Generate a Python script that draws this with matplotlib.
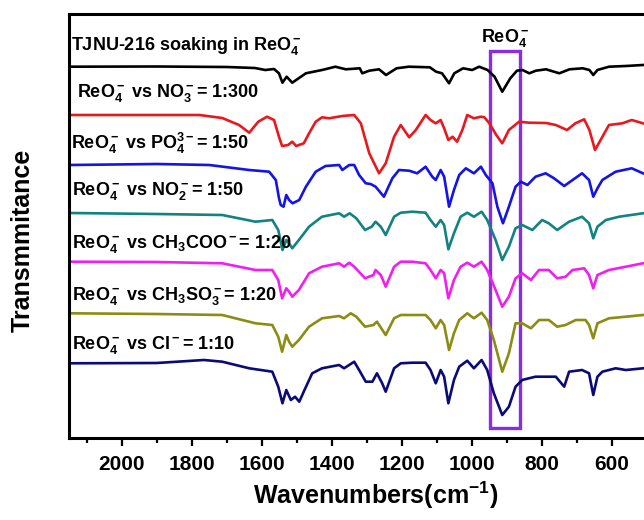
import numpy as np
import matplotlib
matplotlib.use("Agg")
import matplotlib.pyplot as plt
from matplotlib.patches import Rectangle

plt.rcParams["font.family"] = ["Liberation Sans", "DejaVu Sans"]
plt.rcParams["font.weight"] = "bold"
plt.rcParams["mathtext.fontset"] = "custom"
plt.rcParams["mathtext.rm"] = "Liberation Sans:bold"
plt.rcParams["mathtext.it"] = "Liberation Sans:bold"
plt.rcParams["mathtext.bf"] = "Liberation Sans:bold"

# spectra, stacked as in the figure (wavenumber cm-1, transmittance a.u.)
wn_black = [2150, 1900, 1700, 1620, 1590, 1565, 1551, 1541, 1529, 1513, 1474, 1428, 1408, 1390,
            1360, 1320, 1313, 1293, 1265, 1245, 1215, 1180, 1120, 1102, 1085, 1065, 1050, 1025,
            999, 979, 955, 935, 913, 890, 871, 855, 836, 817, 788, 750, 721, 683, 664, 653, 641,
            608, 560, 511]
t_black = [371.3, 371.5, 371, 370, 368, 369, 364.7, 355.3, 361.3, 355.3, 364.7, 368, 369.7, 371.3,
           368.7, 369.7, 364.7, 367.3, 368.7, 363, 369.7, 371.3, 370.7, 366.3, 364.7, 354.7, 364.7, 369.7,
           368, 371.3, 368, 361.3, 346.3, 359.7, 367.3, 368, 364.7, 367.3, 368.7, 364.7, 368.7, 369.7, 368, 363, 368,
           371.3, 372, 373]

wn_red = [2150, 1950, 1778, 1713, 1665, 1636, 1610, 1585, 1565, 1551, 1542, 1525, 1513, 1502, 1480,
          1465, 1446, 1428, 1408, 1370, 1336, 1317, 1293, 1265, 1246, 1222, 1203, 1179, 1160, 1132,
          1118, 1103, 1089, 1079, 1067, 1055, 1042, 1027, 1013, 994, 974, 964, 950, 930, 913, 894,
          865, 836, 788, 760, 728, 704, 679, 664, 648, 632, 608, 570, 543, 511]
t_red = [323, 323, 323, 320, 313, 305.3, 316.3, 321.3, 318, 301.3, 292, 293, 296.3, 292, 294.7,
         304.7, 316.3, 320.7, 319.7, 322, 323, 314.7, 284.7, 264.7, 274.7, 301.3, 313, 300.7, 308, 323,
         318, 314.7, 318, 309.7, 298, 301.3, 296.3, 308, 323, 319.7, 321.3, 320.7, 314.7, 303, 294.7, 308,
         316.3, 315.3, 315, 313, 308, 314.7, 318.7, 308, 288, 298, 313, 314.7, 318, 314.7]

wn_blue = [2150, 1900, 1750, 1636, 1579, 1560, 1551, 1546, 1538, 1530, 1522, 1512, 1493, 1474, 1446,
           1418, 1379, 1370, 1350, 1336, 1322, 1303, 1289, 1275, 1251, 1227, 1208, 1179, 1156, 1132,
           1113, 1103, 1089, 1079, 1065, 1051, 1036, 1017, 994, 974, 960, 941, 927, 911, 894, 875,
           860, 841, 818, 789, 765, 736, 712, 685, 665, 653, 641, 627, 589, 543, 511]
t_blue = [273, 274, 273, 268, 266.3, 258, 240, 233, 231.3, 243, 238, 234.7, 238, 251.3, 266.3,
          272, 273, 268, 273, 273, 263, 254.7, 254, 251.3, 241.3, 259.7, 268, 267.3, 264.7, 271.3,
          261.3, 258, 268, 261.3, 231.3, 248, 263, 269.7, 264.7, 271.3, 263, 254.7, 231.3, 214.7, 231.3, 251.3,
          256.3, 253, 261.3, 264.7, 259.7, 252, 258, 264.7, 258, 241.3, 249.7, 258, 266.3, 269.7, 264.7]

wn_teal = [2150, 1900, 1713, 1618, 1570, 1553, 1541, 1530, 1522, 1513, 1494, 1465, 1428, 1379,
           1365, 1349, 1330, 1305, 1286, 1275, 1260, 1246, 1222, 1203, 1170, 1132, 1118, 1103, 1089,
           1079, 1067, 1051, 1032, 1013, 994, 972, 956, 932, 913, 894, 875, 856, 827, 799, 780, 756,
           722, 685, 665, 653, 641, 617, 579, 511]
t_teal = [225, 224, 223, 216.3, 218, 208, 188, 198, 194.7, 189.7, 198, 211.3, 221.3, 224.7,
          221.3, 224.7, 219.7, 208, 211.3, 216.3, 211.3, 203, 221.3, 225.3, 226.3, 225.3, 218, 211.3, 218,
          213, 188.7, 204.7, 221.3, 225.3, 221.3, 226.3, 218, 198, 178, 191.3, 209.7, 213, 208, 218, 214.7, 208,
          216.3, 221.3, 214.7, 199.7, 211.3, 218, 221.3, 224.7]

wn_mag = [2150, 1900, 1713, 1618, 1570, 1553, 1542, 1530, 1522, 1513, 1494, 1465, 1428, 1379,
          1365, 1350, 1336, 1305, 1281, 1275, 1260, 1246, 1222, 1203, 1170, 1132, 1118, 1103, 1089,
          1079, 1067, 1051, 1032, 1013, 994, 972, 956, 932, 913, 894, 875, 856, 831, 808, 780, 756,
          732, 712, 679, 665, 653, 641, 608, 560, 511]
t_mag = [176.3, 176, 174.7, 168, 168, 158, 139.7, 149.7, 146.3, 141.3, 148, 164.7, 171.3, 174.7,
         171.3, 175.3, 171.3, 159.7, 163, 168, 163, 151.3, 171.3, 176.3, 176.3, 174.7, 168, 159.7, 168,
         164.7, 139.7, 158, 171.3, 175.3, 171.3, 176.3, 168, 148, 131.3, 141.3, 159.7, 164.7, 158, 168, 168, 159.7,
         161.3, 168, 169.7, 163, 149.7, 163, 168, 171.3, 174.7]

wn_olive = [2150, 1900, 1713, 1618, 1570, 1553, 1542, 1530, 1522, 1513, 1494, 1465, 1428, 1379,
            1365, 1346, 1330, 1305, 1281, 1271, 1246, 1222, 1203, 1170, 1132, 1118, 1103, 1089, 1079,
            1065, 1051, 1036, 1013, 994, 972, 956, 937, 913, 894, 875, 856, 831, 808, 780, 756, 732,
            703, 675, 665, 653, 641, 608, 560, 511]
t_olive = [124.7, 124, 123, 114.7, 113, 101.3, 86.3, 103, 96.3, 91.3, 98, 111.3, 119.7, 122,
           119.7, 124.7, 121.3, 111.3, 113, 116.3, 103, 119.7, 123, 123, 123, 118, 109.7, 118, 113,
           88, 104.7, 118, 124.7, 119.7, 125.3, 118, 98, 66.3, 84.7, 114.7, 114.7, 109.7, 118, 118, 111.3, 113,
           118, 118, 113, 99.7, 114.7, 119.7, 121.3, 123]

wn_navy = [2150, 1900, 1765, 1713, 1636, 1570, 1553, 1541, 1530, 1517, 1505, 1493, 1478, 1456,
           1428, 1379, 1365, 1336, 1322, 1303, 1284, 1271, 1256, 1246, 1222, 1203, 1170, 1132, 1118,
           1103, 1089, 1079, 1067, 1051, 1036, 1013, 994, 972, 956, 937, 913, 894, 875, 856, 837, 818,
           789, 760, 736, 722, 685, 665, 653, 641, 627, 589, 560, 511]
t_navy = [74.7, 75, 78, 76.3, 69.7, 66.3, 51.3, 34.7, 48, 38, 41.3, 36.3, 48, 64.7,
          69.7, 73, 69.7, 76.3, 68, 56.3, 56.3, 64.7, 54.7, 46.3, 69.7, 74.7, 75.3, 75.3, 68,
          54.7, 68, 61.3, 34.7, 58, 71.3, 77.3, 69.7, 78, 68, 44.7, 23, 31.3, 51.3, 58, 59.7, 61.3,
          61.3, 61.3, 51.3, 66.3, 68, 64.7, 43, 61.3, 66.3, 69.7, 68, 69.7]

labels = [
    "TJNU-216 soaking in ReO$_4^-$",
    "ReO$_4^-$ vs NO$_3^-$= 1:300",
    "ReO$_4^-$ vs PO$_4^{3-}$= 1:50",
    "ReO$_4^-$ vs NO$_2^-$= 1:50",
    "ReO$_4^-$ vs CH$_3$COO$^-$= 1:20",
    "ReO$_4^-$ vs CH$_3$SO$_3^-$= 1:20",
    "ReO$_4^-$ vs Cl$^-$= 1:10",
]
label_y = [392, 345, 295, 247, 194, 142, 93]
label_x = [2145, 2128, 2145, 2143, 2143, 2143, 2143]

series = [(wn_black, t_black, "black"),
          (wn_red, t_red, "#E8191E"),
          (wn_blue, t_blue, "#1414E6"),
          (wn_teal, t_teal, "#128282"),
          (wn_mag, t_mag, "#F01EF0"),
          (wn_olive, t_olive, "#8C8C14"),
          (wn_navy, t_navy, "#0A0A78")]

fig = plt.figure(figsize=(6.44, 5.2), dpi=100)
ax = fig.add_axes([69.3 / 644, 82 / 520, 612.5 / 644, 424 / 520])

for wn, t, c in series:
    ax.plot(wn, t, color=c, lw=1.9, solid_joinstyle="round")

for s, x, y in zip(labels, label_x, label_y):
    ax.text(x, y, s, fontsize=13, fontweight="bold", ha="left", va="center")

# ReO4- band box
ax.add_patch(Rectangle((862, 10), 86, 377, fill=False, edgecolor="#8B2BE2", lw=2.4))
ax.text(905, 400, "ReO$_4^-$", fontsize=13, ha="center", va="center")

ax.set_xlim(2150, 400)
ax.set_ylim(0, 424)
ax.set_xticks(np.arange(2000, 400, -200))
ax.set_xticks(np.arange(2100, 400, -200), minor=True)
ax.set_yticks([])
ax.tick_params(axis="x", which="major", direction="out", length=6, width=1.6,
               labelsize=15, pad=6)
ax.tick_params(axis="x", which="minor", direction="out", length=3.5, width=1.6)
for lab in ax.get_xticklabels():
    lab.set_fontweight("bold")
for side in ["left", "bottom", "top"]:
    ax.spines[side].set_linewidth(2.2)
ax.spines["right"].set_visible(False)

ax.set_xlabel("Wavenumbers(cm$^{-1}$)", fontsize=18, fontweight="bold", labelpad=4)
fig.text(23 / 644, 1 - 240 / 520, "Transmmitance", rotation=90, fontsize=18,
         fontweight="bold", ha="center", va="center")

fig.savefig("out.png", dpi=100)
